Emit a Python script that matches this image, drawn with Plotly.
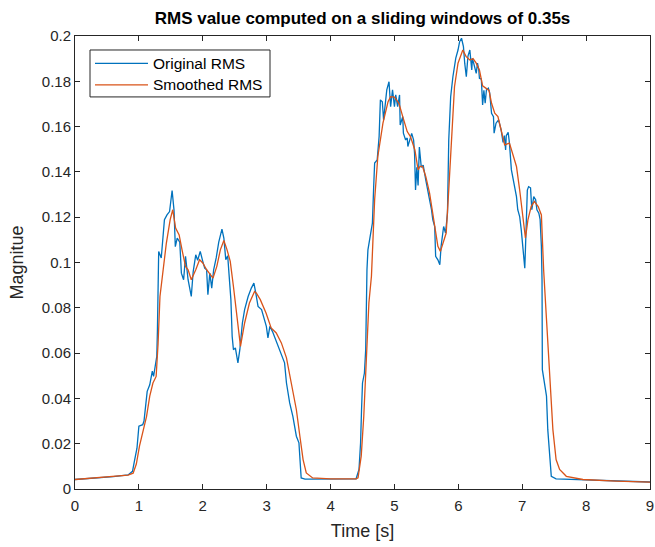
import plotly.graph_objects as go

# Original RMS (blue)
orig_t = [0.00, 0.30, 0.60, 0.83, 0.90, 0.93, 0.97, 1.00, 1.06, 1.08, 1.13, 1.17, 1.21, 1.23, 1.28, 1.29,
          1.31, 1.35, 1.40, 1.44, 1.48, 1.52, 1.55, 1.57, 1.60, 1.64, 1.665, 1.70, 1.73, 1.77, 1.795, 1.82,
          1.85, 1.89, 1.92, 1.96, 2.00, 2.03, 2.06, 2.08, 2.11, 2.14, 2.17, 2.21, 2.25, 2.30, 2.33, 2.36,
          2.39, 2.42, 2.44, 2.46, 2.48, 2.51, 2.55, 2.58, 2.62, 2.655, 2.71, 2.76, 2.80, 2.83, 2.865, 2.92,
          2.95, 2.995, 3.02, 3.05, 3.09, 3.14, 3.19, 3.245, 3.28, 3.31, 3.36, 3.41, 3.465, 3.505, 3.53, 3.54,
          3.60, 4.00, 4.40, 4.445, 4.47, 4.485, 4.50, 4.53, 4.55, 4.57, 4.585, 4.62, 4.655, 4.675, 4.69, 4.73,
          4.76, 4.78, 4.81, 4.83, 4.86, 4.88, 4.915, 4.94, 4.97, 5.00, 5.02, 5.05, 5.08, 5.09, 5.13, 5.14,
          5.175, 5.20, 5.21, 5.24, 5.27, 5.30, 5.315, 5.33, 5.35, 5.37, 5.39, 5.42, 5.45, 5.49, 5.525, 5.55,
          5.58, 5.60, 5.63, 5.645, 5.68, 5.71, 5.73, 5.77, 5.80, 5.83, 5.85, 5.88, 5.915, 5.96, 5.995, 6.02,
          6.05, 6.08, 6.10, 6.125, 6.15, 6.18, 6.21, 6.22, 6.24, 6.28, 6.30, 6.32, 6.33, 6.36, 6.38, 6.40,
          6.42, 6.44, 6.47, 6.49, 6.52, 6.55, 6.56, 6.59, 6.63, 6.67, 6.70, 6.72, 6.74, 6.75, 6.78, 6.80,
          6.83, 6.85, 6.88, 6.91, 6.93, 6.96, 6.985, 7.01, 7.03, 7.04, 7.05, 7.08, 7.10, 7.13, 7.15, 7.18,
          7.21, 7.23, 7.26, 7.28, 7.30, 7.31, 7.315, 7.38, 7.40, 7.43, 7.455, 7.53, 8.00, 8.50, 9.00]
orig_v = [0.0042, 0.0048, 0.0055, 0.0062, 0.0078, 0.0123, 0.0180, 0.0277, 0.0284, 0.0300, 0.0431, 0.0460, 0.0520, 0.0497, 0.0586, 0.0700,
          0.1049, 0.1020, 0.1189, 0.1210, 0.1225, 0.1318, 0.1230, 0.1070, 0.1108, 0.1090, 0.0953, 0.0924, 0.1027, 0.0924, 0.0880, 0.0850,
          0.0960, 0.1034, 0.1010, 0.1049, 0.1005, 0.0975, 0.0968, 0.0858, 0.0953, 0.0887, 0.0968, 0.1020, 0.1090, 0.1147, 0.1108, 0.1012,
          0.1030, 0.0924, 0.0836, 0.0674, 0.0615, 0.0623, 0.0557, 0.0615, 0.0733, 0.0792, 0.0850, 0.0887, 0.0909, 0.0865, 0.0806, 0.0792,
          0.0762, 0.0718, 0.0667, 0.0718, 0.0696, 0.0659, 0.0630, 0.0586, 0.0557, 0.0468, 0.0380, 0.0321, 0.0233, 0.0204, 0.0116, 0.0049,
          0.0044, 0.0043, 0.0045, 0.0086, 0.0204, 0.0350, 0.0468, 0.0512, 0.0615, 0.0968, 0.1056, 0.1115, 0.1174, 0.1335, 0.1439, 0.1453,
          0.1556, 0.1718, 0.1710, 0.1630, 0.1703, 0.1762, 0.1798, 0.1688, 0.1762, 0.1688, 0.1740, 0.1688, 0.1740, 0.1607, 0.1644, 0.1571,
          0.1541, 0.1550, 0.1512, 0.1540, 0.1570, 0.1540, 0.1480, 0.1320, 0.1420, 0.1340, 0.1510, 0.1420, 0.1430, 0.1365, 0.1320, 0.1277,
          0.1233, 0.1189, 0.1159, 0.1027, 0.1012, 0.0990, 0.1071, 0.1159, 0.1130, 0.1218, 0.1541, 0.1732, 0.1820, 0.1902, 0.1938, 0.1975,
          0.1990, 0.1953, 0.1880, 0.1820, 0.1910, 0.1938, 0.1850, 0.1900, 0.1880, 0.1835, 0.1880, 0.1850, 0.1813, 0.1810, 0.1696, 0.1760,
          0.1703, 0.1762, 0.1770, 0.1750, 0.1659, 0.1644, 0.1571, 0.1615, 0.1630, 0.1585, 0.1530, 0.1560, 0.1497, 0.1560, 0.1575, 0.1527,
          0.1410, 0.1380, 0.1350, 0.1291, 0.1233, 0.1203, 0.1144, 0.1071, 0.0998, 0.0975, 0.1056, 0.1320, 0.1335, 0.1330, 0.1233, 0.1291,
          0.1277, 0.1233, 0.1218, 0.1190, 0.1071, 0.0924, 0.0527, 0.0410, 0.0262, 0.0145, 0.0056, 0.0045, 0.0040, 0.0035, 0.0031]

# Smoothed RMS (orange)
smooth_t = [0.00, 0.30, 0.60, 0.83, 0.91, 0.96, 1.01, 1.065, 1.12, 1.17, 1.22, 1.27, 1.30, 1.33, 1.38, 1.43,
            1.49, 1.53, 1.575, 1.63, 1.68, 1.73, 1.77, 1.82, 1.89, 1.95, 2.00, 2.06, 2.16, 2.22, 2.275, 2.33,
            2.38, 2.43, 2.48, 2.535, 2.59, 2.655, 2.73, 2.81, 2.84, 2.90, 2.99, 3.07, 3.15, 3.23, 3.31, 3.385,
            3.465, 3.52, 3.57, 3.62, 3.72, 4.00, 4.40, 4.43, 4.48, 4.52, 4.56, 4.60, 4.64, 4.69, 4.74, 4.82,
            4.90, 4.94, 5.00, 5.07, 5.13, 5.20, 5.25, 5.32, 5.37, 5.40, 5.44, 5.49, 5.55, 5.60, 5.645, 5.68,
            5.72, 5.77, 5.81, 5.85, 5.89, 5.94, 5.995, 6.05, 6.07, 6.12, 6.18, 6.23, 6.28, 6.33, 6.38, 6.43,
            6.48, 6.52, 6.57, 6.62, 6.67, 6.725, 6.80, 6.85, 6.91, 6.96, 7.01, 7.05, 7.09, 7.14, 7.19, 7.25,
            7.30, 7.32, 7.335, 7.38, 7.43, 7.48, 7.53, 7.585, 7.69, 7.95, 8.47, 9.00]
smooth_v = [0.0042, 0.0048, 0.0055, 0.0061, 0.0070, 0.0110, 0.0190, 0.0260, 0.0321, 0.0410, 0.0468, 0.0497, 0.0640, 0.0850, 0.0983, 0.1086,
            0.1189, 0.1233, 0.1152, 0.1122, 0.1049, 0.0983, 0.0968, 0.0924, 0.0968, 0.1012, 0.0998, 0.0968, 0.0931, 0.0983, 0.1056, 0.1097,
            0.1056, 0.1005, 0.0894, 0.0762, 0.0630, 0.0733, 0.0821, 0.0872, 0.0865, 0.0836, 0.0777, 0.0711, 0.0689, 0.0645, 0.0579, 0.0468,
            0.0350, 0.0233, 0.0130, 0.0071, 0.0049, 0.0045, 0.0045, 0.0049, 0.0145, 0.0321, 0.0557, 0.0821, 0.0939, 0.1277, 0.1468, 0.1615,
            0.1710, 0.1732, 0.1730, 0.1703, 0.1644, 0.1578, 0.1556, 0.1497, 0.1409, 0.1424, 0.1424, 0.1380, 0.1306, 0.1218, 0.1130, 0.1071,
            0.1049, 0.1100, 0.1130, 0.1320, 0.1512, 0.1776, 0.1880, 0.1930, 0.1938, 0.1910, 0.1894, 0.1900, 0.1880, 0.1850, 0.1780, 0.1770,
            0.1760, 0.1703, 0.1659, 0.1644, 0.1585, 0.1519, 0.1527, 0.1483, 0.1424, 0.1320, 0.1203, 0.1108, 0.1189, 0.1247, 0.1270, 0.1247,
            0.1210, 0.1070, 0.0968, 0.0748, 0.0527, 0.0262, 0.0130, 0.0086, 0.0056, 0.0042, 0.0035, 0.0030]

series_names = ["Original RMS", "Smoothed RMS"]
x_ticks = [0, 1, 2, 3, 4, 5, 6, 7, 8, 9]
y_ticks = [0, 0.02, 0.04, 0.06, 0.08, 0.1, 0.12, 0.14, 0.16, 0.18, 0.2]
y_tick_labels = ["0", "0.02", "0.04", "0.06", "0.08", "0.1", "0.12", "0.14", "0.16", "0.18", "0.2"]

FONT = "Liberation Sans, Arial, Helvetica, sans-serif"
AX = "#262626"
COLORS = ["#0072BD", "#D95319"]

fig = go.Figure()
fig.add_trace(go.Scatter(x=orig_t, y=orig_v, mode="lines", name=series_names[0],
                         line=dict(color=COLORS[0], width=1.3), showlegend=False))
fig.add_trace(go.Scatter(x=smooth_t, y=smooth_v, mode="lines", name=series_names[1],
                         line=dict(color=COLORS[1], width=1.3), showlegend=False))

axis_common = dict(showgrid=False, zeroline=False, showline=True, linecolor=AX, linewidth=1,
                   mirror="ticks", ticks="inside", ticklen=5, tickcolor=AX, automargin=False,
                   tickfont=dict(family=FONT, size=15, color=AX))

# MATLAB-style legend box (drawn in paper coordinates)
L, R, T, B = 75, 650, 36, 489.5
W, H = R - L, B - T
px = lambda p: (p - L) / W
py = lambda p: (B - p) / H

shapes = [dict(type="rect", xref="paper", yref="paper",
               x0=px(90), x1=px(270), y0=py(97), y1=py(50),
               line=dict(color=AX, width=1), fillcolor="white", layer="above")]
annotations = []
for i, (name, col) in enumerate(zip(series_names, COLORS)):
    yy = [63.5, 85][i]
    shapes.append(dict(type="line", xref="paper", yref="paper",
                       x0=px(95), x1=px(148), y0=py(yy), y1=py(yy),
                       line=dict(color=col, width=1.3), layer="above"))
    annotations.append(dict(text=name, xref="paper", yref="paper", x=px(151), y=py(yy),
                            xanchor="left", yanchor="middle", showarrow=False,
                            font=dict(family=FONT, size=15.5, color="black")))

fig.update_layout(
    width=655, height=547,
    margin=dict(l=L, r=655 - R, t=T, b=547 - B),
    paper_bgcolor="white", plot_bgcolor="white",
    title=dict(text="<b>RMS value computed on a sliding windows of 0.35s</b>",
               x=(L + R) / 2 / 655, xanchor="center", y=1 - 18 / 547, yanchor="middle",
               font=dict(family=FONT, size=17, color="black")),
    xaxis=dict(range=[0, 9], tickvals=x_ticks, ticklabelstandoff=3,
               title=dict(text="Time [s]", font=dict(family=FONT, size=18, color=AX), standoff=11),
               **axis_common),
    yaxis=dict(range=[0, 0.2], tickvals=y_ticks, ticktext=y_tick_labels,
               title=dict(text="Magnitue", font=dict(family=FONT, size=18, color=AX), standoff=13),
               **axis_common),
    shapes=shapes,
    annotations=annotations,
    showlegend=False,
)

fig.write_html("out.html", config={"displayModeBar": False},
               post_script="document.body.style.margin='0';")
